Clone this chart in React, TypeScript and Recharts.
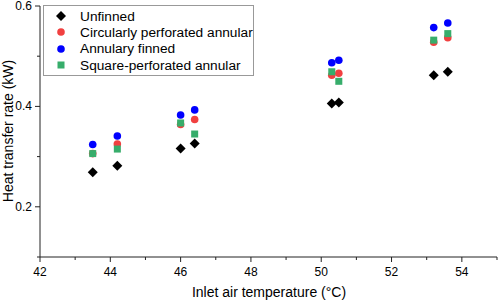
import { ScatterChart, Scatter, XAxis, YAxis } from 'recharts'

const temps = [43.5, 44.2, 46.0, 46.4, 50.3, 50.5, 53.2, 53.6]
const unfinned = [0.269, 0.282, 0.316, 0.326, 0.406, 0.408, 0.462, 0.469]
const circPerforated = [0.306, 0.325, 0.364, 0.374, 0.462, 0.466, 0.528, 0.537]
const annularFinned = [0.324, 0.341, 0.383, 0.393, 0.487, 0.492, 0.557, 0.566]
const squarePerforated = [0.306, 0.315, 0.367, 0.345, 0.469, 0.450, 0.532, 0.545]

const xTicks = [42, 43, 44, 45, 46, 47, 48, 49, 50, 51, 52, 53, 54, 55]
const yTicks = [0.1, 0.2, 0.3, 0.4, 0.5, 0.6]

const FONT = '"Liberation Sans", Arial, sans-serif'
const AXIS = '#222'

const series = [
  { name: 'Unfinned', values: unfinned, color: '#000000', kind: 'diamond' },
  { name: 'Circularly perforated annular', values: circPerforated, color: '#f14040', kind: 'circle' },
  { name: 'Annulary finned', values: annularFinned, color: '#0000ff', kind: 'circle' },
  { name: 'Square-perforated annular', values: squarePerforated, color: '#37ad6b', kind: 'square' },
]

function Marker({ cx, cy, kind, color }: { cx: number; cy: number; kind: string; color: string }) {
  if (kind === 'diamond') {
    const r = 5
    return <path d={`M${cx},${cy - r}L${cx + r},${cy}L${cx},${cy + r}L${cx - r},${cy}Z`} fill={color} />
  }
  if (kind === 'square') {
    return <rect x={cx - 3.5} y={cy - 3.5} width={7} height={7} fill={color} />
  }
  return <circle cx={cx} cy={cy} r={3.8} fill={color} />
}

function XTick(props: any) {
  const { x, y, payload } = props
  const v = payload.value
  const major = v % 2 === 0 && v < 55
  return (
    <g>
      <line x1={x} x2={x} y1={y - 8} y2={y - 8 + (major ? 5 : 3)} stroke={AXIS} />
      {major && (
        <text x={x} y={y + 11} textAnchor="middle" fontSize={12} fontFamily={FONT} fill="#000">
          {v}
        </text>
      )}
    </g>
  )
}

function YTick(props: any) {
  const { x, y, payload } = props
  const v = Math.round(payload.value * 10) / 10
  const major = Math.round(v * 10) % 2 === 0 && v > 0.15
  return (
    <g>
      <line x1={x + 8} x2={x + 8 - (major ? 5 : 3)} y1={y} y2={y} stroke={AXIS} />
      {major && (
        <text x={x} y={y + 4} textAnchor="end" fontSize={12} fontFamily={FONT} fill="#000">
          {v.toFixed(1)}
        </text>
      )}
    </g>
  )
}

function LegendBox() {
  return (
    <div
      style={{
        position: 'absolute',
        left: 43,
        top: 5,
        border: '1px solid #999',
        width: 209,
        padding: '2px 0 2px 0',
        background: '#fff',
        fontFamily: FONT,
        fontSize: 13.7,
        color: '#000',
      }}
    >
      {series.map(s => (
        <div key={s.name} style={{ display: 'flex', alignItems: 'center', height: 16.3 }}>
          <svg width={36} height={16} style={{ flex: 'none' }}>
            <Marker cx={17} cy={8} kind={s.kind} color={s.color} />
          </svg>
          <span style={{ whiteSpace: 'nowrap' }}>{s.name}</span>
        </div>
      ))}
    </div>
  )
}

export default function App() {
  return (
    <div style={{ position: 'absolute', left: 0, top: 0, width: 498, height: 301, background: '#fff' }}>
      <ScatterChart width={498} height={301} margin={{ top: 6, right: 1, bottom: 0, left: 0 }}>
        <XAxis
          type="number"
          dataKey="x"
          domain={[42, 55]}
          ticks={xTicks}
          interval={0}
          tick={<XTick />}
          tickLine={false}
          axisLine={{ stroke: AXIS }}
          height={44}
          allowDataOverflow
        />
        <YAxis
          type="number"
          dataKey="y"
          domain={[0.1, 0.6]}
          ticks={yTicks}
          interval={0}
          tick={<YTick />}
          tickLine={false}
          axisLine={{ stroke: AXIS }}
          width={40}
          allowDataOverflow
        />
        {series.map(s => (
          <Scatter
            key={s.name}
            name={s.name}
            data={temps.map((t, i) => ({ x: t, y: s.values[i] }))}
            fill={s.color}
            isAnimationActive={false}
            shape={(p: any) => <Marker cx={p.cx} cy={p.cy} kind={s.kind} color={s.color} />}
          />
        ))}
      </ScatterChart>
      <LegendBox />
      <div
        style={{
          position: 'absolute',
          left: 40,
          width: 458,
          top: 284,
          textAlign: 'center',
          fontFamily: FONT,
          fontSize: 14,
          color: '#000',
        }}
      >
        Inlet air temperature (°C)
      </div>
      <div
        style={{
          position: 'absolute',
          left: 7.5,
          top: 131,
          transform: 'translate(-50%, -50%) rotate(-90deg)',
          whiteSpace: 'nowrap',
          fontFamily: FONT,
          fontSize: 14,
          color: '#000',
        }}
      >
        Heat transfer rate (kW)
      </div>
    </div>
  )
}
